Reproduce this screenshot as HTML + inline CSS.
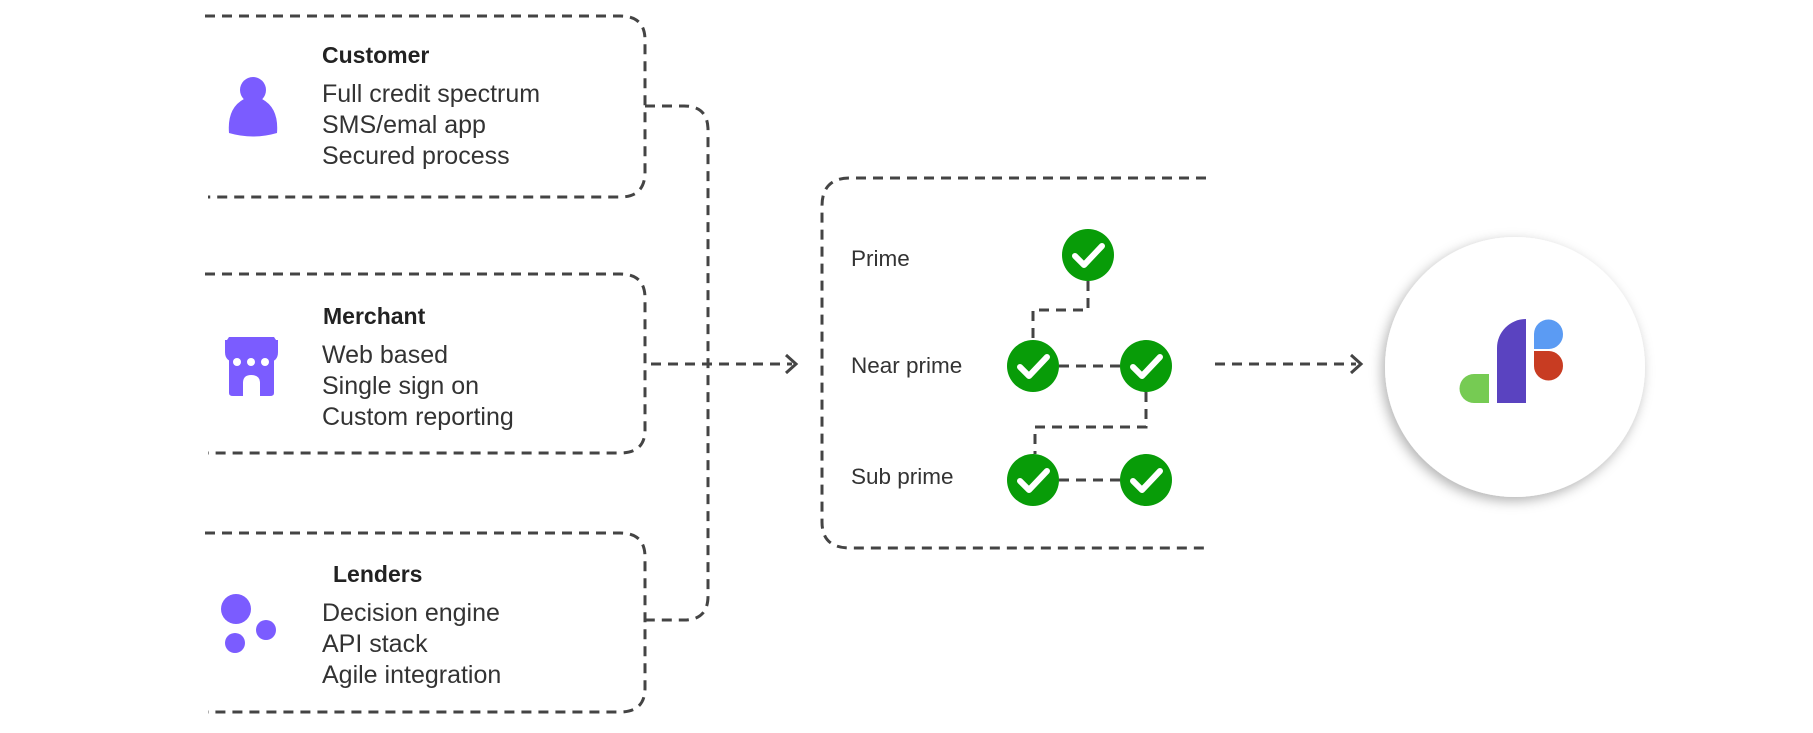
<!DOCTYPE html>
<html><head><meta charset="utf-8"><style>
body{margin:0;background:#fff;}
svg{display:block;}
text{font-family:"Liberation Sans",sans-serif;fill:#333;}
.h{font-weight:bold;font-size:23px;fill:#222;}
.t{font-size:25px;}
.l{font-size:22.5px;}
.d{fill:none;stroke:#444;stroke-width:3;stroke-dasharray:10 7;}
</style></head><body>
<svg width="1813" height="733" viewBox="0 0 1813 733">
<defs><filter id="sh" x="-30%" y="-30%" width="160%" height="160%"><feDropShadow dx="-3" dy="4" stdDeviation="6" flood-color="#000" flood-opacity="0.3"/></filter></defs>
<!-- left boxes -->
<path class="d" d="M205 16 H620 Q645 16 645 40 V172 Q645 197 620 197 H208"/>
<path class="d" d="M205 274 H620 Q645 274 645 298 V430 Q645 453 620 453 H208"/>
<path class="d" d="M205 533 H620 Q645 533 645 557 V688 Q645 712 620 712 H208"/>
<!-- bracket connector -->
<path class="d" d="M645 106 H684 Q708 106 708 130 V596 Q708 620 684 620 H645"/>
<!-- arrows -->
<path class="d" d="M651 364 H792"/>
<path d="M786 355 L796 364 L786 373" fill="none" stroke="#444" stroke-width="3"/>
<path class="d" d="M1215 364 H1356"/>
<path d="M1351 355 L1361 364 L1351 373" fill="none" stroke="#444" stroke-width="3"/>
<!-- middle box -->
<path class="d" d="M1206 178 H850 Q822 178 822 206 V522 Q822 548 850 548 H1206"/>
<path class="d" d="M1088 281 V310 H1033 V340"/>
<path class="d" d="M1059 366 H1120"/>
<path class="d" d="M1146 392 V427 H1035 V454"/>
<path class="d" d="M1059 480 H1120"/>
<g fill="#089c08">
<circle cx="1088" cy="255" r="26"/><circle cx="1033" cy="366" r="26"/><circle cx="1146" cy="366" r="26"/><circle cx="1033" cy="480" r="26"/><circle cx="1146" cy="480" r="26"/>
</g>
<g fill="none" stroke="#fff" stroke-width="6" stroke-linecap="round" stroke-linejoin="round">
<path d="M1075 256 L1084 265 L1102 246"/><path d="M1020 367 L1029 376 L1047 357"/><path d="M1133 367 L1142 376 L1160 357"/><path d="M1020 481 L1029 490 L1047 471"/><path d="M1133 481 L1142 490 L1160 471"/>
</g>
<text class="l" x="851" y="266">Prime</text>
<text class="l" x="851" y="373">Near prime</text>
<text class="l" x="851" y="484">Sub prime</text>
<circle cx="1515" cy="367" r="130" fill="#fff" filter="url(#sh)"/>
<path d="M1474 374 H1489 V403 H1474 A14.5 14.5 0 0 1 1474 374 Z" fill="#76cb53"/>
<path d="M1526 319 V403 H1497 V348 A29 29 0 0 1 1526 319 Z" fill="#5a43c0"/>
<path d="M1534 349 V334 A14.5 14.5 0 0 1 1563 334 A14.5 14.5 0 0 1 1549 349 Z" fill="#5b9bf3"/>
<path d="M1534 351 H1549 A14.5 14.5 0 0 1 1563 366 A14.5 14.5 0 0 1 1534 366 Z" fill="#c83c22"/>
<g fill="#7b5cff">
<circle cx="253" cy="90" r="13"/>
<path d="M229 133 Q227 108 244 99 L262 99 Q279 108 277 133 Q253 140 229 133 Z"/>
<path d="M225 340 H278 V352 Q278 362 268 362 H236 Q225 362 225 352 Z"/>
<path d="M229 337 H274 L276 340 H227 Z"/>
<path d="M229 360 H274 V393 Q274 396 270 396 H260 V383 Q260 375 251 375 Q243 375 243 383 V396 H233 Q229 396 229 393 Z"/>
<circle cx="236" cy="609" r="15"/><circle cx="235" cy="643" r="10"/><circle cx="266" cy="630" r="10"/>
</g>
<g fill="#fff"><circle cx="237" cy="362" r="4"/><circle cx="251" cy="362" r="4"/><circle cx="265" cy="362" r="4"/></g>
<text class="h" x="322" y="63">Customer</text>
<text class="t" x="322" y="102">Full credit spectrum</text>
<text class="t" x="322" y="133">SMS/emal app</text>
<text class="t" x="322" y="164">Secured process</text>
<text class="h" x="323" y="324">Merchant</text>
<text class="t" x="322" y="363">Web based</text>
<text class="t" x="322" y="394">Single sign on</text>
<text class="t" x="322" y="425">Custom reporting</text>
<text class="h" x="333" y="582">Lenders</text>
<text class="t" x="322" y="621">Decision engine</text>
<text class="t" x="322" y="652">API stack</text>
<text class="t" x="322" y="683">Agile integration</text>
</svg>
</body></html>
